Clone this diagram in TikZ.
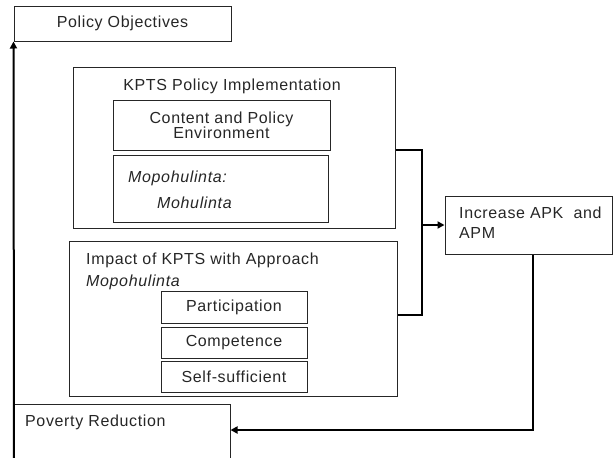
\documentclass[tikz,border=0pt]{standalone}
\usepackage{fontspec}
\setmainfont{Liberation Sans}[LetterSpace=4]
\usetikzlibrary{arrows.meta,positioning}
\begin{document}
\begin{tikzpicture}[x=1pt,y=-1pt,
  every node/.style={font=\fontsize{16}{15}\selectfont, text=black!85},
  box/.style={draw=black!85, line width=1pt, inner sep=0pt},
  lbl/.style={inner sep=0pt},
  conn/.style={draw=black, line width=2pt},
  tip/.style={-{Triangle[length=7pt,width=7pt]}}
]
\useasboundingbox (0,0) rectangle (614,458);
% boxes
\node[box, minimum width=217pt, minimum height=35pt] (obj) at (122.5,23.5) {Policy Objectives};
\node[box, minimum width=322pt, minimum height=161pt] (kpts) at (234,147.5) {};
\node[lbl] (kptst) at (232,86) {KPTS Policy Implementation};
\node[box, minimum width=217pt, minimum height=50pt, align=center] (cont) at (221.5,125) {Content and Policy\\Environment};
\node[box, minimum width=215pt, minimum height=67pt] (mopo) at (220.5,188.5) {};
\node[lbl, anchor=west] (mopo1) at (128,178) {\itshape Mopohulinta:};
\node[lbl, anchor=west] (mopo2) at (157,203) {\itshape Mohulinta};
\node[box, minimum width=328pt, minimum height=155pt] (imp) at (233,318.5) {};
\node[lbl, anchor=west] (impt1) at (86,260) {Impact of KPTS with Approach};
\node[lbl, anchor=west] (impt2) at (86,282) {\itshape Mopohulinta};
\node[box, minimum width=146pt, minimum height=32pt] (part) at (234,307) {Participation};
\node[box, minimum width=146pt, minimum height=31pt] (comp) at (234,342.5) {Competence};
\node[box, minimum width=146pt, minimum height=31pt] (self) at (234,376.5) {Self-sufficient};
\node[box, minimum width=167pt, minimum height=58pt] (incr) at (528.5,225) {};
\node[lbl, anchor=west] (incr1) at (459,213) {Increase APK\ \ and};
\node[lbl, anchor=west] (incr2) at (459,233) {APM};
\node[box, minimum width=216pt, minimum height=56pt] (pov) at (122,432) {};
\node[lbl, anchor=west] (povt) at (25,422) {Poverty Reduction};
% connectors
\coordinate (bt) at (422,150);
\coordinate (bb) at (422,315);
\coordinate (bm) at (422,225);
\coordinate (dn) at (533,430);
\coordinate (lb) at (14,458);
\draw[conn] (kpts.east |- bt) -- (bt) -- (bb) -- (imp.east |- bb);
\draw[conn, tip] (bm) -- (incr.west |- bm);
\draw[conn, tip] (incr.south -| dn) -- (dn) -- (pov.east |- dn);
\draw[conn, tip] (lb) -- (obj.south west);
\end{tikzpicture}
\end{document}
